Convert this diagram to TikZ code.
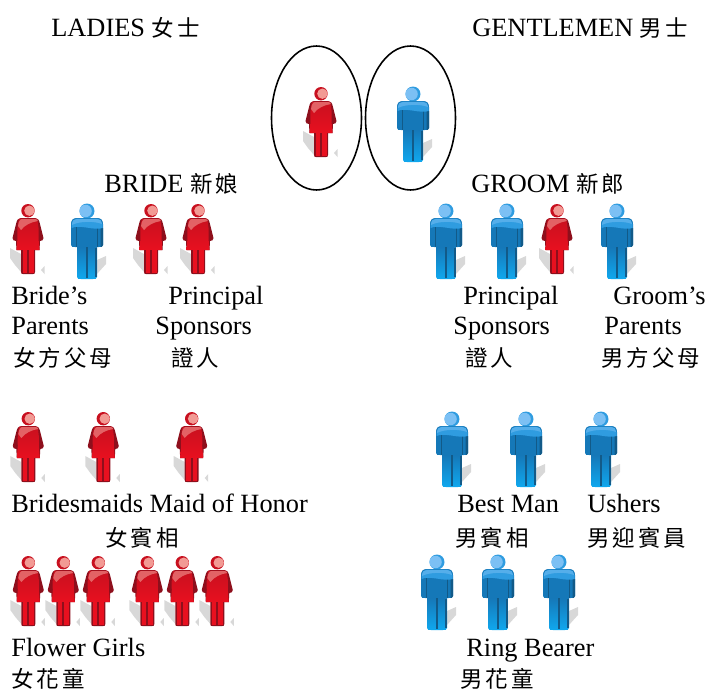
\documentclass[tikz,border=0pt]{standalone}
\usepackage{fontspec}
\setmainfont{Liberation Serif}
\newfontfamily\cjkfont[LetterSpace=13]{Noto Sans CJK TC}
\newcommand{\cjk}{\cjkfont\fontsize{12.8}{16}\selectfont}
\usetikzlibrary{shapes.geometric}
\definecolor{ladyred}{HTML}{C8101F}
\definecolor{ladybright}{HTML}{E8101F}
\definecolor{ladydark}{HTML}{8E0F1C}
\definecolor{ladypale}{HTML}{F29A94}
\definecolor{manblue}{HTML}{1578B8}
\definecolor{mantop}{HTML}{2F9CE0}
\definecolor{manbright}{HTML}{10A8EE}
\definecolor{mandark}{HTML}{125A88}
\definecolor{manpale}{HTML}{7CC0F4}
\definecolor{shadowgray}{HTML}{D8D8D8}
\tikzset{
  label/.style={anchor=base west, inner sep=0pt, font=\fontsize{15}{18}\selectfont},
  ring/.style={draw, ellipse, line width=0.9pt, minimum width=1.8cm, minimum height=2.88cm, inner sep=0pt},
  pics/ladyicon/.style={code={
    % shadow
    \fill[shadowgray] (-18,44) -- (-7,50) -- (-7,68) -- (-13,61) -- (-18,54) -- cycle;
    \fill[shadowgray] (13,66) -- (16.5,62) -- (16.5,70) -- cycle;
    % head
    \fill[ladyred] (0,6.7) circle (6.7);
    \fill[ladypale] (1.4,6.7) circle (5.2);
    % outline with arms
    \fill[ladydark] (-7,14) -- (7,14) .. controls (10,14) and (11,16) .. (12,20)
      -- (15.5,34) .. controls (15.5,36) and (14,37) .. (12,37) -- (11.5,46)
      -- (-11.5,46) -- (-12,37) .. controls (-14,37) and (-15.5,36) .. (-15.5,34)
      -- (-12,20) .. controls (-11,16) and (-10,14) .. (-7,14) -- cycle;
    % dress
    \shade[top color=ladyred, bottom color=ladybright]
      (-9,14.5) -- (9,14.5) .. controls (10.5,20) and (11,27) .. (10.5,34) -- (11.5,46) -- (-11.5,46)
      -- (-10.5,34) .. controls (-11,27) and (-10.5,20) .. (-9,14.5) -- cycle;
    % legs
    \fill[ladydark] (-7,46) -- (7,46) -- (7,68)
      .. controls (7,70) and (6,70) .. (5,70) -- (-5,70) .. controls (-6,70) and (-7,70) .. (-7,68) -- cycle;
    \fill[ladybright] (-5.5,46) rectangle (-1,69);
    \fill[ladybright] (1,46) rectangle (5.5,69);
    % gloss
    \fill[ladypale, opacity=0.6] (-6,15) -- (7,15) .. controls (9,15) and (9.5,16) .. (10,17)
      .. controls (3,18) and (-3,21) .. (-7,26) -- (-10,22) .. controls (-9.5,18) and (-8,15) .. (-6,15) -- cycle;
  }},
  pics/genticon/.style={code={
    % shadow
    \fill[shadowgray] (10,56) -- (19,52) -- (19,60) -- (10,70) -- cycle;
    % head
    \fill[mantop] (0,7) circle (7.5);
    \fill[manpale] (-1.4,7) circle (6.2);
    % body
    \fill[manblue]
      (-10,14) -- (10,14) .. controls (14,14) and (16,16) .. (16,20) -- (16,41)
      .. controls (16,43) and (14,43) .. (12,43) -- (-12,43) .. controls (-14,43) and (-16,43) .. (-16,41)
      -- (-16,20) .. controls (-16,16) and (-14,14) .. (-10,14) -- cycle;
    \shade[top color=manblue, bottom color=manbright]
      (-10,43) -- (10,43) -- (10,73) .. controls (10,75) and (8,75) .. (6,75) -- (-6,75)
      .. controls (-8,75) and (-10,75) .. (-10,73) -- cycle;
    % arms and legs
    \fill[mandark] (-0.8,43) rectangle (0.8,74);
    \fill[mandark] (-10.6,23) rectangle (-9.6,43);
    \fill[mandark] (9.6,23) rectangle (10.6,43);
    \fill[mandark] (13.5,24) -- (16,24) -- (16,41) .. controls (16,43) and (14,43) .. (13.5,43) -- cycle;
    \fill[mandark] (8,44) rectangle (10,73);
    % gloss
    \fill[mantop] (-10,14.5) -- (10,14.5) .. controls (13,14.5) and (15.5,17) .. (15.5,20) -- (15.5,24)
      .. controls (8,27) and (-8,20) .. (-15.5,24) -- (-15.5,20) .. controls (-15.5,17) and (-13,14.5) .. (-10,14.5) -- cycle;
    \fill[manpale, opacity=0.5] (-10,15) -- (10,15) .. controls (13,15) and (15,17) .. (15,20)
      .. controls (8,17) and (-8,17) .. (-15,21) .. controls (-15,17) and (-13,15) .. (-10,15) -- cycle;
  }}
}
\begin{document}
\begin{tikzpicture}[x=0.02cm, y=-0.02cm]
  \useasboundingbox (0,0) rectangle (708,691);

  % Headings
  \node[label] (ladies) at (51,36) {LADIES {\cjk 女士}};
  \node[label] (gents) at (472,36) {GENTLEMEN {\cjk 男士}};
  \node[label] (bride) at (104,192) {BRIDE {\cjk 新娘}};
  \node[label] (groom) at (471,192) {GROOM {\cjk 新郎}};

  % Couple
  \node[ring] (ringleft) at (316.5,118) {};
  \node[ring] (ringright) at (410.5,118) {};
  \pic (coupleb) at (321,87) {ladyicon};
  \pic (coupleg) at (413,87) {genticon};

  % First row, bride side
  \pic (parentb1) at (28,204) {ladyicon};
  \pic (parentb2) at (87,204) {genticon};
  \pic (sponsorb1) at (151,204) {ladyicon};
  \pic (sponsorb2) at (198,204) {ladyicon};
  \node[label] (bparents1) at (11,304) {Bride’s};
  \node[label] (bparents2) at (11,334) {Parents};
  \node[label] (bparents3) at (13,366) {\cjk 女方父母};
  \node[label] (bsponsors1) at (168,304) {Principal};
  \node[label] (bsponsors2) at (155,334) {Sponsors};
  \node[label] (bsponsors3) at (171,366) {\cjk 證人};

  % First row, groom side
  \pic (sponsorg1) at (446,204) {genticon};
  \pic (sponsorg2) at (507,204) {genticon};
  \pic (sponsorg3) at (557,204) {ladyicon};
  \pic (parentg1) at (617,204) {genticon};
  \node[label] (gsponsors1) at (463,304) {Principal};
  \node[label] (gsponsors2) at (453,334) {Sponsors};
  \node[label] (gsponsors3) at (465,366) {\cjk 證人};
  \node[label] (gparents1) at (613,304) {Groom’s};
  \node[label] (gparents2) at (604,334) {Parents};
  \node[label] (gparents3) at (601,366) {\cjk 男方父母};

  % Second row
  \pic (maid1) at (28.3,412) {ladyicon};
  \pic (maid2) at (103.3,412) {ladyicon};
  \pic (maid3) at (191.7,412) {ladyicon};
  \pic (best) at (452,412) {genticon};
  \pic (usher1) at (526,412) {genticon};
  \pic (usher2) at (601,412) {genticon};
  \node[label] (maids) at (11,512) {Bridesmaids Maid of Honor};
  \node[label] (maidscjk) at (105,546) {\cjk 女賓相};
  \node[label] (bestman) at (457,512) {Best Man};
  \node[label] (bestcjk) at (455,546) {\cjk 男賓相};
  \node[label] (ushers) at (587,512) {Ushers};
  \node[label] (usherscjk) at (587,546) {\cjk 男迎賓員};

  % Third row
  \pic (girl1) at (28.3,556) {ladyicon};
  \pic (girl2) at (63.3,556) {ladyicon};
  \pic (girl3) at (98.3,556) {ladyicon};
  \pic (girl4) at (147.3,556) {ladyicon};
  \pic (girl5) at (182.3,556) {ladyicon};
  \pic (girl6) at (217.3,556) {ladyicon};
  \pic (bearer1) at (437,555) {genticon};
  \pic (bearer2) at (498,555) {genticon};
  \pic (bearer3) at (559,555) {genticon};
  \node[label] (girls) at (11,656) {Flower Girls};
  \node[label] (girlscjk) at (11,687) {\cjk 女花童};
  \node[label] (bearers) at (466,656) {Ring Bearer};
  \node[label] (bearerscjk) at (460,687) {\cjk 男花童};
\end{tikzpicture}
\end{document}
